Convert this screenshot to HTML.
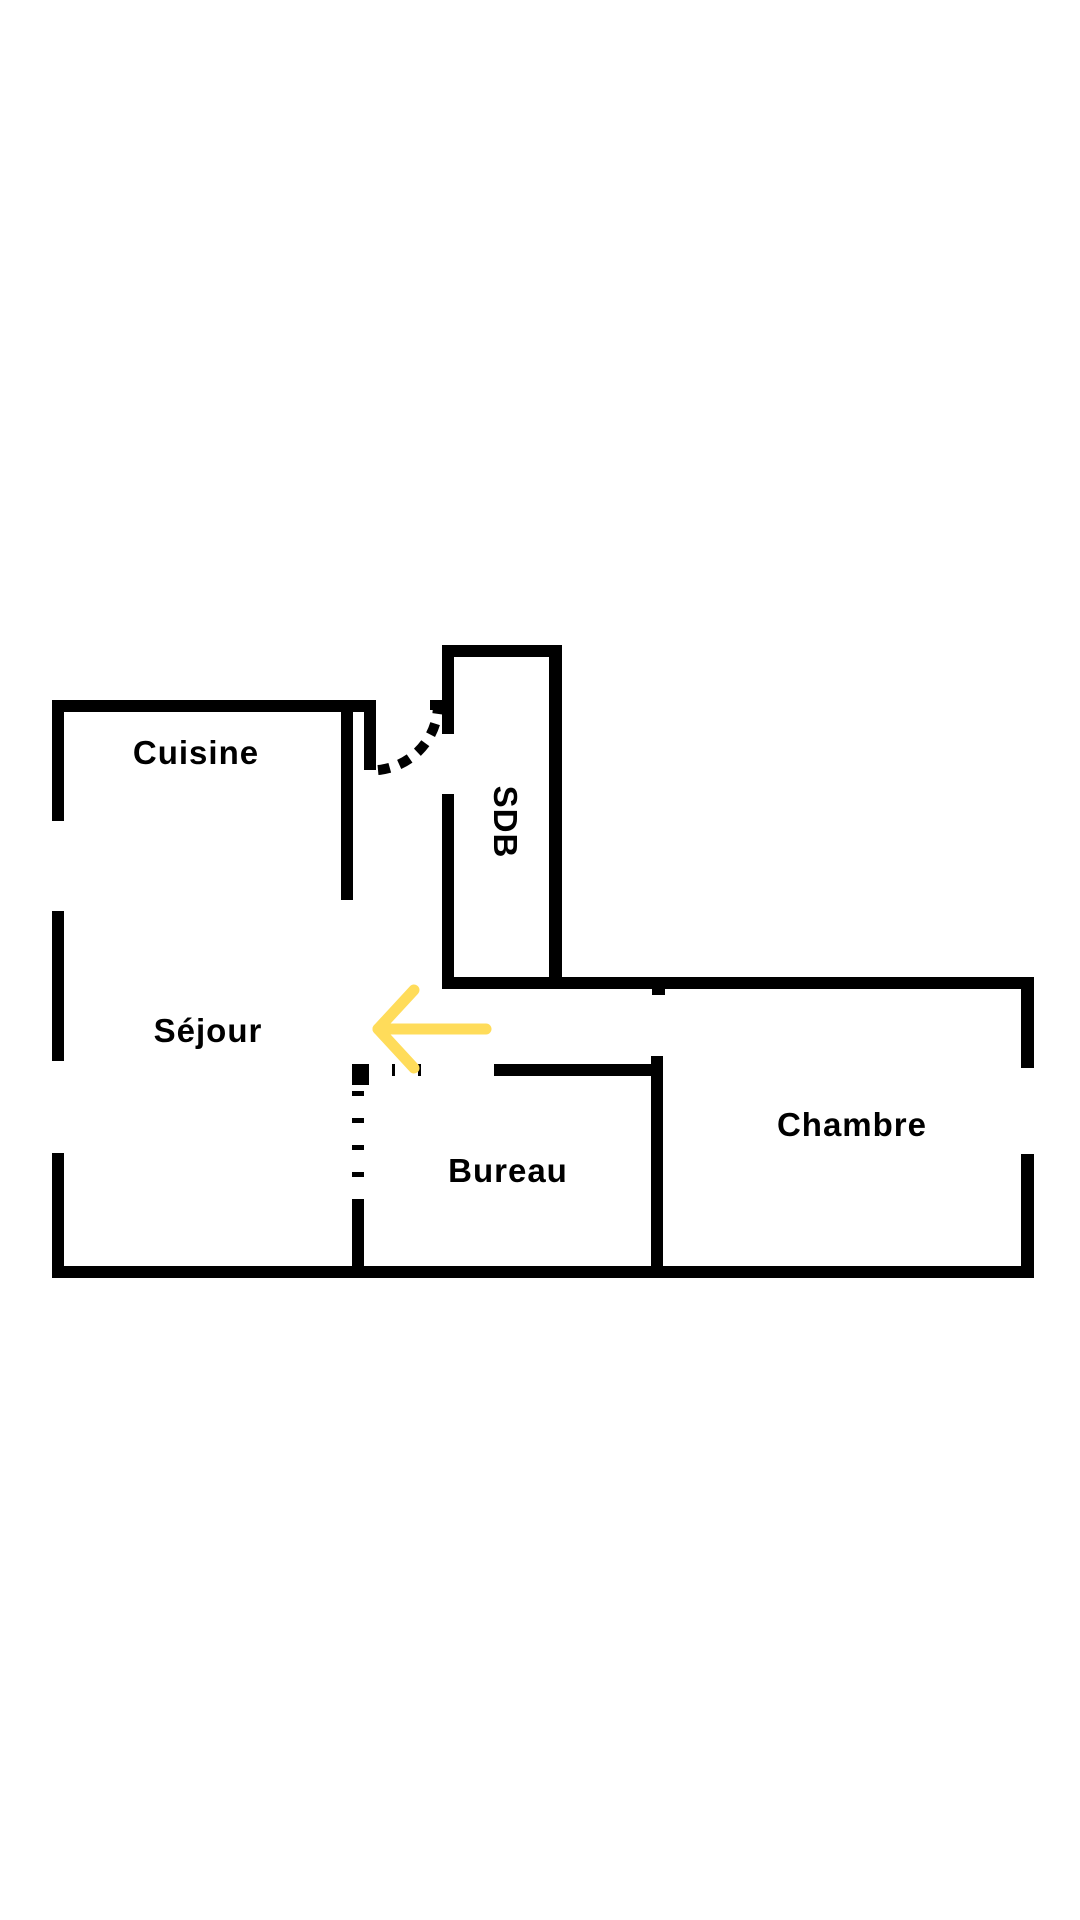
<!DOCTYPE html>
<html><head><meta charset="utf-8"><style>
html,body{margin:0;padding:0;background:#fff;}
svg{display:block}
text{font-family:"Liberation Sans",sans-serif;font-weight:bold;fill:#000;font-size:33px;letter-spacing:1px}
</style></head><body>
<svg width="1080" height="1920" viewBox="0 0 1080 1920">
<g fill="#000">
<rect x="52" y="700" width="12" height="121"/>
<rect x="52" y="911" width="12" height="150"/>
<rect x="52" y="1153" width="12" height="125"/>
<rect x="52" y="700" width="324" height="12"/>
<rect x="341" y="712" width="12" height="188"/>
<rect x="364" y="712" width="12" height="58"/>
<rect x="442" y="645" width="120" height="12"/>
<rect x="442" y="645" width="12" height="89"/>
<rect x="442" y="794" width="12" height="195"/>
<rect x="549" y="645" width="13" height="340"/>
<rect x="442" y="977" width="592" height="12"/>
<rect x="652" y="989" width="13" height="6"/>
<rect x="1021" y="977" width="13" height="91"/>
<rect x="1021" y="1154" width="13" height="124"/>
<rect x="52" y="1266" width="982" height="12"/>
<rect x="494" y="1064" width="169" height="12"/>
<rect x="651" y="1056" width="12" height="222"/>
<rect x="352" y="1199" width="12" height="79"/>
<rect x="352" y="1064" width="17" height="21"/>
<rect x="352" y="1091" width="12" height="5"/>
<rect x="352" y="1118" width="12" height="5"/>
<rect x="352" y="1145" width="12" height="5"/>
<rect x="352" y="1172" width="12" height="5"/>
<rect x="392" y="1064" width="3" height="12"/>
<rect x="418" y="1064" width="3" height="12"/>
<rect x="430" y="700" width="12" height="10"/>
</g>
<path d="M378 770 A66 66 0 0 0 438 706" fill="none" stroke="#000" stroke-width="10" stroke-dasharray="12 10"/>
<g stroke="#FFDC5A" stroke-width="11" stroke-linecap="round" fill="none">
<line x1="486" y1="1029" x2="378" y2="1029"/>
<polyline points="414,990 378,1029 414,1068" stroke-linejoin="round"/>
</g>
<text x="196" y="764" text-anchor="middle">Cuisine</text>
<text x="208" y="1042" text-anchor="middle">Séjour</text>
<text x="508" y="1182" text-anchor="middle">Bureau</text>
<text x="852" y="1136" text-anchor="middle">Chambre</text>
<text x="0" y="0" text-anchor="middle" transform="translate(494 822) rotate(90)">SDB</text>
</svg>
</body></html>
